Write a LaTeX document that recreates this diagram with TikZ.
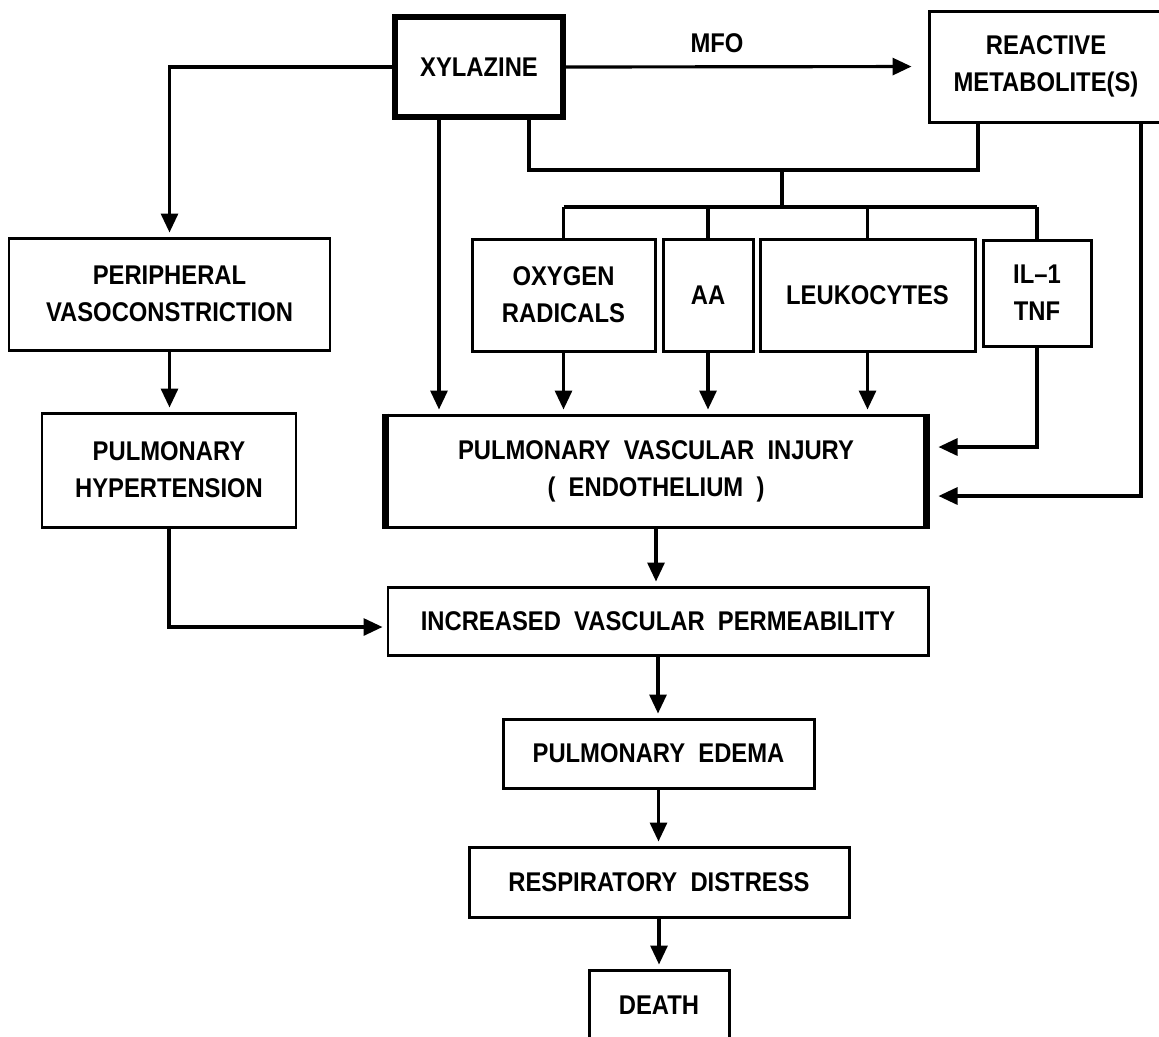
\documentclass[tikz,border=0pt]{standalone}
\usepackage{fontspec}
\setmainfont{Liberation Sans}[WordSpace=2, FakeStretch=0.88]
\usetikzlibrary{arrows.meta}

\begin{document}
\begin{tikzpicture}[x=0.02cm, y=-0.02cm,
  every node/.style={font=\fontsize{15.4}{21}\selectfont\bfseries, align=center, inner sep=0pt},
  box/.style 2 args={draw, rectangle, line width=1.7pt, minimum width=#1*0.02cm, minimum height=#2*0.02cm},
  heavy/.style={line width=3.4pt},
  link/.style={line width=1.8pt},
  arr/.style={link, -{Triangle[length=0.38cm, width=0.34cm]}, shorten >=0.08cm},
]
\path[use as bounding box, fill=white] (0,0) rectangle (1159,1036);

% top row
\node[box={168}{100}, heavy] (xyl) at (479,67) {XYLAZINE};
\node[box={234}{111}] (rm) at (1046,66.5) {REACTIVE\\METABOLITE(S)};
\node (mfo) at (717,43) {MFO};

% left branch
\node[box={321}{112}] (pv) at (169.5,294) {PERIPHERAL\\VASOCONSTRICTION};
\node[box={254}{114}] (ph) at (169,470) {PULMONARY\\HYPERTENSION};

% mediators
\node[box={183}{112}] (ox) at (563.5,295) {OXYGEN\\RADICALS};
\node[box={90}{112}] (aa) at (708,295) {AA};
\node[box={215}{112}] (leu) at (867.5,295) {LEUKOCYTES};
\node[box={108}{106}] (il) at (1037,293) {IL--1\\TNF};

% main chain
\node[box={542}{112}] (pvi) at (656,471) {PULMONARY VASCULAR INJURY\\( ENDOTHELIUM )};
\node[box={540}{68}] (ivp) at (658,621) {INCREASED VASCULAR PERMEABILITY};
\node[box={311}{69}] (pe) at (658.5,753.5) {PULMONARY EDEMA};
\node[box={380}{70}] (rd) at (659,882) {RESPIRATORY DISTRESS};
\node[box={140}{70}] (death) at (659,1005) {DEATH};

\draw[line width=3.6pt] ([xshift=0.04cm]pvi.north west) -- ([xshift=0.04cm]pvi.south west);
\draw[line width=3.6pt] ([xshift=-0.04cm]pvi.north east) -- ([xshift=-0.04cm]pvi.south east);

\coordinate (xa) at (439,0);
\coordinate (xb) at (529,170);
\coordinate (jn) at (782,170);
\coordinate (bar) at (0,207);
\coordinate (rmb) at (978,0);
\coordinate (ia) at (0,447);
\coordinate (rb) at (1141,496);
\coordinate (pa) at (0,627);

% connectors
\draw[arr] (xyl.west) -| (pv.north);
\draw[arr, shorten >=0.32cm] (xyl.east) -- (rm.west);
\draw[arr] (xa |- xyl.south) -- (xa |- pvi.north);
\draw[link] (xb |- xyl.south) -- (xb) -| (rmb |- rm.south);
\draw[link] (jn) -- (jn |- bar);
\draw[link] (ox.north |- bar) -- (il.north |- bar);
\foreach \n in {ox, aa, leu, il}
  \draw[link] (\n.north |- bar) -- (\n.north);
\foreach \n in {ox, aa, leu}
  \draw[arr] (\n.south) -- (\n.south |- pvi.north);
\draw[arr, shorten >=0.2cm] (il.south) |- (pvi.east |- ia);
\draw[arr, shorten >=0.2cm] (rb |- rm.south) |- (pvi.east |- rb);
\draw[arr] (pv.south) -- (pv.south |- ph.north);
\draw[arr] (ph.south) |- (ivp.west |- pa);
\draw[arr] (pvi.south) -- (pvi.south |- ivp.north);
\draw[arr] (ivp.south) -- (ivp.south |- pe.north);
\draw[arr] (pe.south) -- (pe.south |- rd.north);
\draw[arr] (rd.south) -- (rd.south |- death.north);
\end{tikzpicture}
\end{document}
